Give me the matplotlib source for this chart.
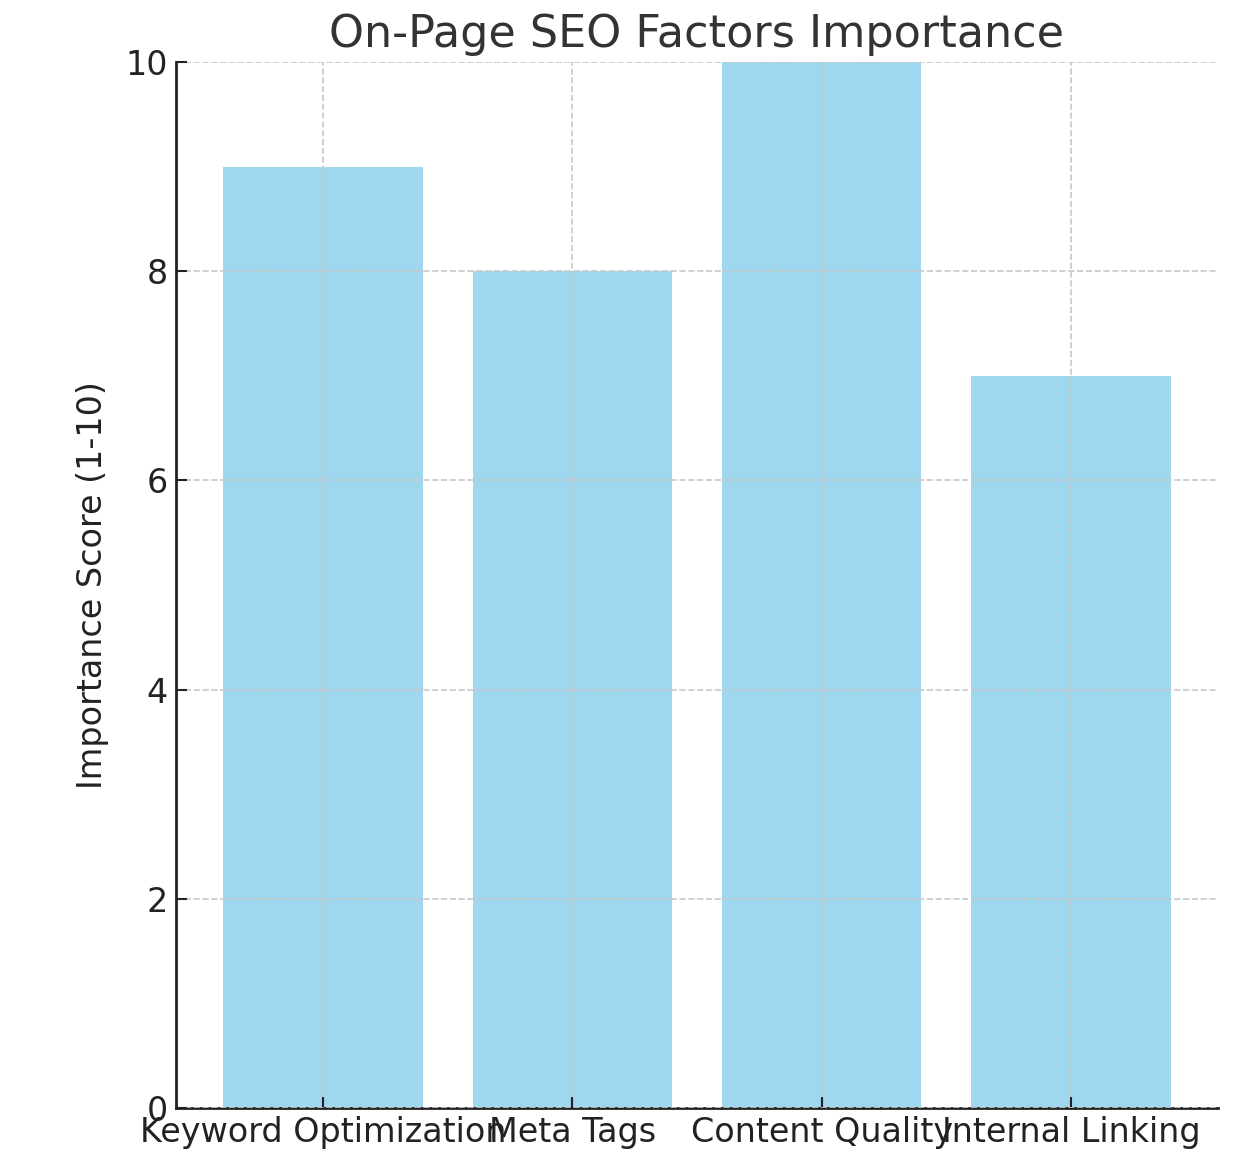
import matplotlib
matplotlib.use("Agg")
import matplotlib.pyplot as plt

factors = ['Keyword Optimization', 'Meta Tags', 'Content Quality', 'Internal Linking']
scores = [9, 8, 10, 7]

fig = plt.figure(figsize=(12.38, 11.71), dpi=100)
ax = fig.add_axes([0.1422, 0.0538, 0.8416, 0.8932])

ax.bar(factors, scores, color='skyblue', alpha=0.8, width=0.8)
ax.set_ylim(0, 10)
ax.set_title('On-Page SEO Factors Importance', fontsize=32, color='#333333', pad=11)
ax.set_ylabel('Importance Score (1-10)', fontsize=24, color='#222222', labelpad=12)

ax.grid(True, linestyle='--', color='#c8c8c8', linewidth=1.2)
ax.set_axisbelow(False)
for s in ['top', 'right']:
    ax.spines[s].set_visible(False)
for s in ['left', 'bottom']:
    ax.spines[s].set_linewidth(2)
    ax.spines[s].set_color('#222222')
ax.tick_params(axis='both', direction='in', length=8, width=1.5, labelsize=24,
               colors='#222222', pad=6)

fig.savefig('out.png', dpi=100)
